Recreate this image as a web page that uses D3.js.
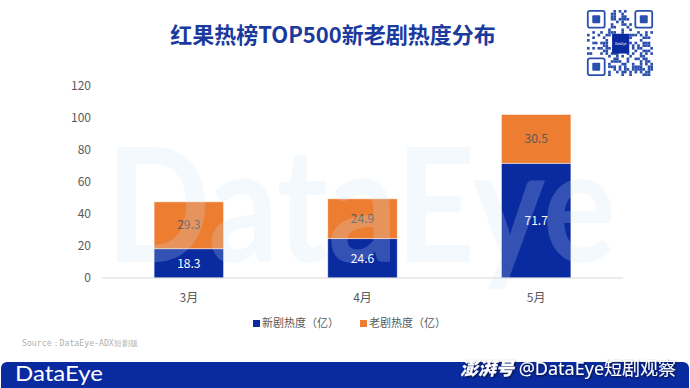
<!DOCTYPE html>
<html>
<head>
<meta charset="utf-8">
<script src="https://cdn.jsdelivr.net/npm/d3@7"></script>
<style>
  body { margin: 0; background: #fff; }
  svg { display: block; font-family: "Noto Sans CJK SC", "Noto Sans", sans-serif; }
</style>
</head>
<body>
<div id="chart"></div>
<script>
var months = ["3月", "4月", "5月"];
var newHeat = [18.3, 24.6, 71.7];
var oldHeat = [29.3, 24.9, 30.5];
var yTicks = [0, 20, 40, 60, 80, 100, 120];
var seriesNames = ["新剧热度（亿）", "老剧热度（亿）"];
var colors = ["#0a2aa0", "#ed7d31"];

var width = 690, height = 388;
var margin = { top: 86, right: 67, bottom: 110, left: 102 };

var svg = d3.select("#chart").append("svg")
  .attr("width", width)
  .attr("height", height);

var defs = svg.append("defs");
var shadow = defs.append("filter").attr("id", "shadow")
  .attr("x", "-10%").attr("y", "-30%").attr("width", "120%").attr("height", "160%");
shadow.append("feDropShadow")
  .attr("dx", 1).attr("dy", 1).attr("stdDeviation", 0.8)
  .attr("flood-color", "#000").attr("flood-opacity", 0.7);

// title
svg.append("text")
  .attr("x", 333).attr("y", 43)
  .attr("text-anchor", "middle")
  .attr("fill", "#1b3a9e")
  .attr("font-size", 22)
  .attr("font-weight", 700)
  .text("红果热榜TOP500新老剧热度分布");

// QR code (decoration)
var qr = svg.append("g").attr("transform", "translate(587,10)");
var qrSize = 66, cells = 25, cs = qrSize / cells;
for (var i = 0; i < cells; i++) {
  for (var j = 0; j < cells; j++) {
    var inFinder = (i < 8 && j < 8) || (i > 16 && j < 8) || (i < 8 && j > 16);
    var inLogo = i >= 9 && i <= 15 && j >= 9 && j <= 15;
    if (inFinder || inLogo) continue;
    var h = ((i * 73856093) ^ (j * 19349663) ^ (i * j * 83492791)) >>> 0;
    if (h % 7 < 3) {
      qr.append("rect")
        .attr("x", i * cs).attr("y", j * cs)
        .attr("width", cs).attr("height", cs)
        .attr("fill", "#2a4fae");
    }
  }
}
[[0, 0], [18, 0], [0, 18]].forEach(function(p) {
  qr.append("rect").attr("x", p[0] * cs + 0.8).attr("y", p[1] * cs + 0.8)
    .attr("width", 7 * cs - 1.6).attr("height", 7 * cs - 1.6)
    .attr("rx", 2).attr("fill", "none").attr("stroke", "#2a4fae").attr("stroke-width", 1.8);
  qr.append("rect").attr("x", (p[0] + 2) * cs).attr("y", (p[1] + 2) * cs)
    .attr("width", 3 * cs).attr("height", 3 * cs)
    .attr("rx", 1).attr("fill", "#2a4fae");
});
qr.append("rect").attr("x", 9.5 * cs).attr("y", 9 * cs)
  .attr("width", 6.5 * cs).attr("height", 7.5 * cs).attr("fill", "#0a2aa0");
qr.append("text").attr("x", 12.75 * cs).attr("y", 13.1 * cs)
  .attr("text-anchor", "middle").attr("fill", "#fff")
  .attr("font-size", 3).text("DataEye");

var x = d3.scaleBand()
  .domain(months)
  .range([margin.left, width - margin.right])
  .paddingInner(0.6)
  .paddingOuter(0.3);

var y = d3.scaleLinear()
  .domain([0, 120])
  .range([height - margin.bottom, margin.top]);

// y tick labels
svg.append("g")
  .selectAll("text")
  .data(yTicks)
  .enter().append("text")
  .attr("x", 91)
  .attr("y", function(d) { return y(d); })
  .attr("dy", "0.35em")
  .attr("text-anchor", "end")
  .attr("fill", "#595959")
  .attr("font-size", 12)
  .text(function(d) { return d; });

// stacked bars
var rows = months.map(function(m, i) { return { month: m, newv: newHeat[i], oldv: oldHeat[i] }; });
var stack = d3.stack().keys(["newv", "oldv"])(rows);

var layers = svg.append("g").selectAll("g")
  .data(stack)
  .enter().append("g")
  .attr("fill", function(d, i) { return colors[i]; });

layers.selectAll("rect")
  .data(function(d) { return d; })
  .enter().append("rect")
  .attr("x", function(d) { return x(d.data.month); })
  .attr("y", function(d) { return y(d[1]); })
  .attr("width", x.bandwidth())
  .attr("height", function(d) { return y(d[0]) - y(d[1]); })
  .attr("stroke", "#fff")
  .attr("stroke-opacity", 0.6)
  .attr("stroke-width", 0.8);

// axis line
svg.append("line")
  .attr("x1", margin.left).attr("x2", width - margin.right)
  .attr("y1", y(0)).attr("y2", y(0))
  .attr("stroke", "#d9d9d9").attr("stroke-width", 1);

// category labels
svg.append("g").selectAll("text")
  .data(months)
  .enter().append("text")
  .attr("x", function(d) { return x(d) + x.bandwidth() / 2; })
  .attr("y", y(0) + 20)
  .attr("dy", "0.35em")
  .attr("text-anchor", "middle")
  .attr("fill", "#595959")
  .attr("font-size", 12)
  .text(function(d) { return d; });

// value labels
layers.each(function(layer, li) {
  d3.select(this).selectAll("text")
    .data(layer)
    .enter().append("text")
    .attr("x", function(d) { return x(d.data.month) + x.bandwidth() / 2; })
    .attr("y", function(d) { return (y(d[0]) + y(d[1])) / 2; })
    .attr("dy", "0.35em")
    .attr("text-anchor", "middle")
    .attr("fill", li === 0 ? "#ffffff" : "#595959")
    .attr("font-size", 12)
    .text(function(d) { return (d[1] - d[0]).toFixed(1); });
});

// faint watermark over the plot
svg.append("text")
  .attr("x", 106).attr("y", 262)
  .attr("textLength", 510)
  .attr("lengthAdjust", "spacingAndGlyphs")
  .attr("font-family", "Lato, 'Open Sans', sans-serif")
  .attr("font-weight", 700)
  .attr("font-size", 160)
  .attr("fill", "#cfe3f7")
  .attr("fill-opacity", 0.22)
  .text("DataEye");

// legend
var legend = svg.append("g").selectAll("g")
  .data(seriesNames)
  .enter().append("g")
  .attr("transform", function(d, i) { return "translate(" + (i === 0 ? 253 : 360) + ",320)"; });
legend.append("rect")
  .attr("width", 7).attr("height", 7)
  .attr("fill", function(d, i) { return colors[i]; });
legend.append("text")
  .attr("x", 9).attr("y", 3.5).attr("dy", "0.35em")
  .attr("fill", "#595959").attr("font-size", 11)
  .text(function(d) { return d; });

// source
svg.append("text")
  .attr("x", 22).attr("y", 346)
  .attr("font-family", "'DejaVu Sans Mono', monospace")
  .attr("font-size", 8.2)
  .attr("fill", "#b0b0b0")
  .text("Source：DataEye-ADX短剧版");

// footer bar
svg.append("rect")
  .attr("x", 1).attr("y", 362)
  .attr("width", 688).attr("height", 32)
  .attr("rx", 6)
  .attr("fill", "#0a2aa0");
svg.append("text")
  .attr("x", 15).attr("y", 381)
  .attr("textLength", 88)
  .attr("lengthAdjust", "spacingAndGlyphs")
  .attr("font-family", "Lato, 'Open Sans', sans-serif")
  .attr("font-size", 21)
  .attr("fill", "#fff")
  .text("DataEye");

var wm = svg.append("text")
  .attr("x", 460).attr("y", 375)
  .attr("fill", "#fff")
  .attr("filter", "url(#shadow)")
  .attr("font-size", 18);
wm.append("tspan").attr("font-weight", 900).attr("font-style", "italic").text("澎湃号");
wm.append("tspan").attr("font-family", "'Noto Sans', 'Noto Sans CJK SC', sans-serif").text(" @DataEye短剧观察");
</script>
</body>
</html>
